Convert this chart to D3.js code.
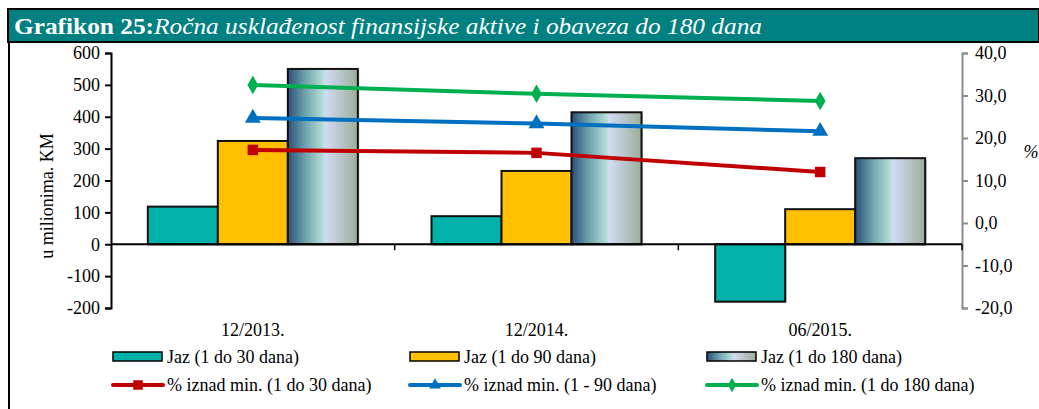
<!DOCTYPE html>
<html>
<head>
<meta charset="utf-8">
<script src="https://cdn.jsdelivr.net/npm/d3@7"></script>
<style>
  body { margin: 0; background: #fff; }
</style>
</head>
<body>
<div id="vis-container"></div>
<script>
// data
const categories = ["12/2013.", "12/2014.", "06/2015."];
const barSeries = ["Jaz (1 do 30 dana)", "Jaz (1 do 90 dana)", "Jaz (1 do 180 dana)"];
const jaz30 = [118, 88, -180];
const jaz90 = [324, 230, 110];
const jaz180 = [550, 414, 270];
const lineSeries = ["% iznad min. (1 do 30 dana)", "% iznad min. (1 - 90 dana)", "% iznad min. (1 do 180 dana)"];
const pct30 = [17.2, 16.5, 12.0];
const pct90 = [24.7, 23.4, 21.6];
const pct180 = [32.5, 30.4, 28.7];
const leftTicks = [-200, -100, 0, 100, 200, 300, 400, 500, 600];
const rightTicks = [-20, -10, 0, 10, 20, 30, 40];

const width = 1039;
const height = 409;
const margin = { top: 53, right: 77, bottom: 101, left: 111 };
const fs = "18px";

const svg = d3.select("#vis-container")
    .append("svg")
    .attr("width", width)
    .attr("height", height);

// gradient for the 180 day bars
const defs = svg.append("defs");
const grad = defs.append("linearGradient").attr("id", "g180")
    .attr("x1", "0%").attr("x2", "100%").attr("y1", "0%").attr("y2", "0%");
[["0%", "#2b5078"], ["25%", "#6fa3ad"], ["52%", "#b9e1dc"], ["53%", "#d3dbf5"], ["100%", "#9cae9a"]]
    .forEach(s => grad.append("stop").attr("offset", s[0]).attr("stop-color", s[1]));

// frame + title bar
svg.append("line").attr("x1", 9).attr("x2", 9).attr("y1", 9).attr("y2", height)
    .attr("stroke", "#000").attr("stroke-width", 2);
svg.append("rect").attr("x", 8).attr("y", 9).attr("width", width - 8).attr("height", 33)
    .attr("fill", "#008080").attr("stroke", "#000").attr("stroke-width", 2);
const title = svg.append("text").attr("x", 14).attr("y", 34)
    .attr("fill", "#fff").attr("font-size", "23px")
    .attr("textLength", 748).attr("lengthAdjust", "spacingAndGlyphs");
title.append("tspan").attr("font-weight", "bold").text("Grafikon 25:");
title.append("tspan").attr("font-style", "italic").text("Ročna usklađenost finansijske aktive i obaveza do 180 dana");

// scales
const x0 = d3.scaleBand()
    .domain(categories)
    .range([margin.left, width - margin.right]);
const x1 = d3.scaleBand()
    .domain(barSeries)
    .range([0, x0.bandwidth()])
    .paddingOuter(0.526);
const y = d3.scaleLinear().domain([-200, 600]).range([height - margin.bottom, margin.top]);
const y2 = d3.scaleLinear().domain([-20, 40]).range([height - margin.bottom, margin.top]);

const hyphen = s => s.replace("−", "-");

// left axis
svg.append("g")
    .attr("transform", `translate(${margin.left},0)`)
    .call(d3.axisLeft(y).tickValues(leftTicks).tickSizeOuter(0).tickSize(6).tickPadding(5)
        .tickFormat(d => hyphen(String(d))))
    .call(g => g.select(".domain").attr("stroke-width", 2))
    .call(g => g.selectAll(".tick line").attr("stroke-width", 2))
    .call(g => g.selectAll(".tick text").attr("font-size", fs).attr("fill", "#000"));

svg.append("text")
    .attr("transform", `translate(53,196) rotate(-90)`)
    .attr("text-anchor", "middle")
    .attr("font-size", fs)
    .text("u milionima. KM");

// right axis
svg.append("g")
    .attr("transform", `translate(${width - margin.right},0)`)
    .call(d3.axisRight(y2).tickValues(rightTicks).tickSizeOuter(0).tickSize(6).tickPadding(7)
        .tickFormat(d => d.toFixed(1).replace(".", ",")))
    .call(g => g.select(".domain").attr("stroke", "#8c8c8c").attr("stroke-width", 2))
    .call(g => g.selectAll(".tick line").attr("stroke", "#8c8c8c").attr("stroke-width", 2))
    .call(g => g.selectAll(".tick text").attr("font-size", fs).attr("fill", "#000"));

svg.append("text")
    .attr("x", 1031).attr("y", 158)
    .attr("text-anchor", "middle")
    .attr("font-size", fs)
    .attr("font-style", "italic")
    .text("%");

// bars
const barColors = ["#00b2aa", "#ffc000", "url(#g180)"];
const barData = [jaz30, jaz90, jaz180];
const barG = svg.append("g");
categories.forEach((c, i) => {
    barSeries.forEach((s, j) => {
        const v = barData[j][i];
        barG.append("rect")
            .attr("x", x0(c) + x1(s) + 1.5)
            .attr("y", Math.min(y(v), y(0)) + 1.5)
            .attr("width", x1.bandwidth())
            .attr("height", Math.abs(y(v) - y(0)))
            .attr("fill", "#c8c8c8");
        barG.append("rect")
            .attr("x", x0(c) + x1(s))
            .attr("y", Math.min(y(v), y(0)))
            .attr("width", x1.bandwidth())
            .attr("height", Math.abs(y(v) - y(0)))
            .attr("fill", barColors[j])
            .attr("stroke", "#111")
            .attr("stroke-width", 2);
    });
});

// zero line with category ticks
svg.append("line")
    .attr("x1", margin.left).attr("x2", width - margin.right)
    .attr("y1", y(0)).attr("y2", y(0))
    .attr("stroke", "#000").attr("stroke-width", 2);
svg.append("g")
    .attr("transform", `translate(0,${y(0)})`)
    .selectAll("line")
    .data(categories.slice(1).map(c => x0(c)).concat([width - margin.right]))
    .enter()
    .append("line")
    .attr("x1", d => d).attr("x2", d => d)
    .attr("y1", 0).attr("y2", 6)
    .attr("stroke", "#000").attr("stroke-width", 1.5);

// category labels
svg.append("g").selectAll("text")
    .data(categories)
    .enter()
    .append("text")
    .attr("x", d => x0(d) + x0.bandwidth() / 2)
    .attr("y", 336)
    .attr("text-anchor", "middle")
    .attr("font-size", fs)
    .text(d => d);

// lines
const lineColors = ["#c00000", "#0070c0", "#00b050"];
const lineData = [pct30, pct90, pct180];
const markers = [d3.symbolSquare, d3.symbolTriangle, d3.symbolDiamond];
const markerSize = [110, 110, 100];
const cx = c => x0(c) + x0.bandwidth() / 2;

const lineGen = d3.line()
    .x((d, i) => cx(categories[i]))
    .y(d => y2(d));

lineData.forEach((vals, k) => {
    svg.append("path")
        .datum(vals)
        .attr("d", lineGen)
        .attr("fill", "none")
        .attr("stroke", lineColors[k])
        .attr("stroke-width", 4);
    svg.append("g").selectAll("path")
        .data(vals)
        .enter()
        .append("path")
        .attr("transform", (d, i) => `translate(${cx(categories[i])},${y2(d)})`)
        .attr("d", d3.symbol().type(markers[k]).size(markerSize[k]))
        .attr("fill", lineColors[k]);
});

// legend
const legCols = [113, 410, 707];
const leg = svg.append("g").attr("font-size", fs);
barSeries.forEach((s, j) => {
    leg.append("rect")
        .attr("x", legCols[j]).attr("y", 352)
        .attr("width", 49).attr("height", 9)
        .attr("fill", barColors[j])
        .attr("stroke", "#000").attr("stroke-width", 1.5);
    leg.append("text")
        .attr("x", legCols[j] + 54).attr("y", 363)
        .text(s);
});
lineSeries.forEach((s, k) => {
    leg.append("line")
        .attr("x1", legCols[k]).attr("x2", legCols[k] + 50)
        .attr("y1", 385).attr("y2", 385)
        .attr("stroke", lineColors[k]).attr("stroke-width", 4)
        .attr("stroke-linecap", "round");
    leg.append("path")
        .attr("transform", `translate(${legCols[k] + 25},385)`)
        .attr("d", d3.symbol().type(markers[k]).size(k === 0 ? 90 : 60))
        .attr("fill", lineColors[k]);
    leg.append("text")
        .attr("x", legCols[k] + 54).attr("y", 391)
        .text(s);
});

// serif everywhere, like the original
svg.selectAll("text").style("font-family", "Liberation Serif");
</script>
</body>
</html>
